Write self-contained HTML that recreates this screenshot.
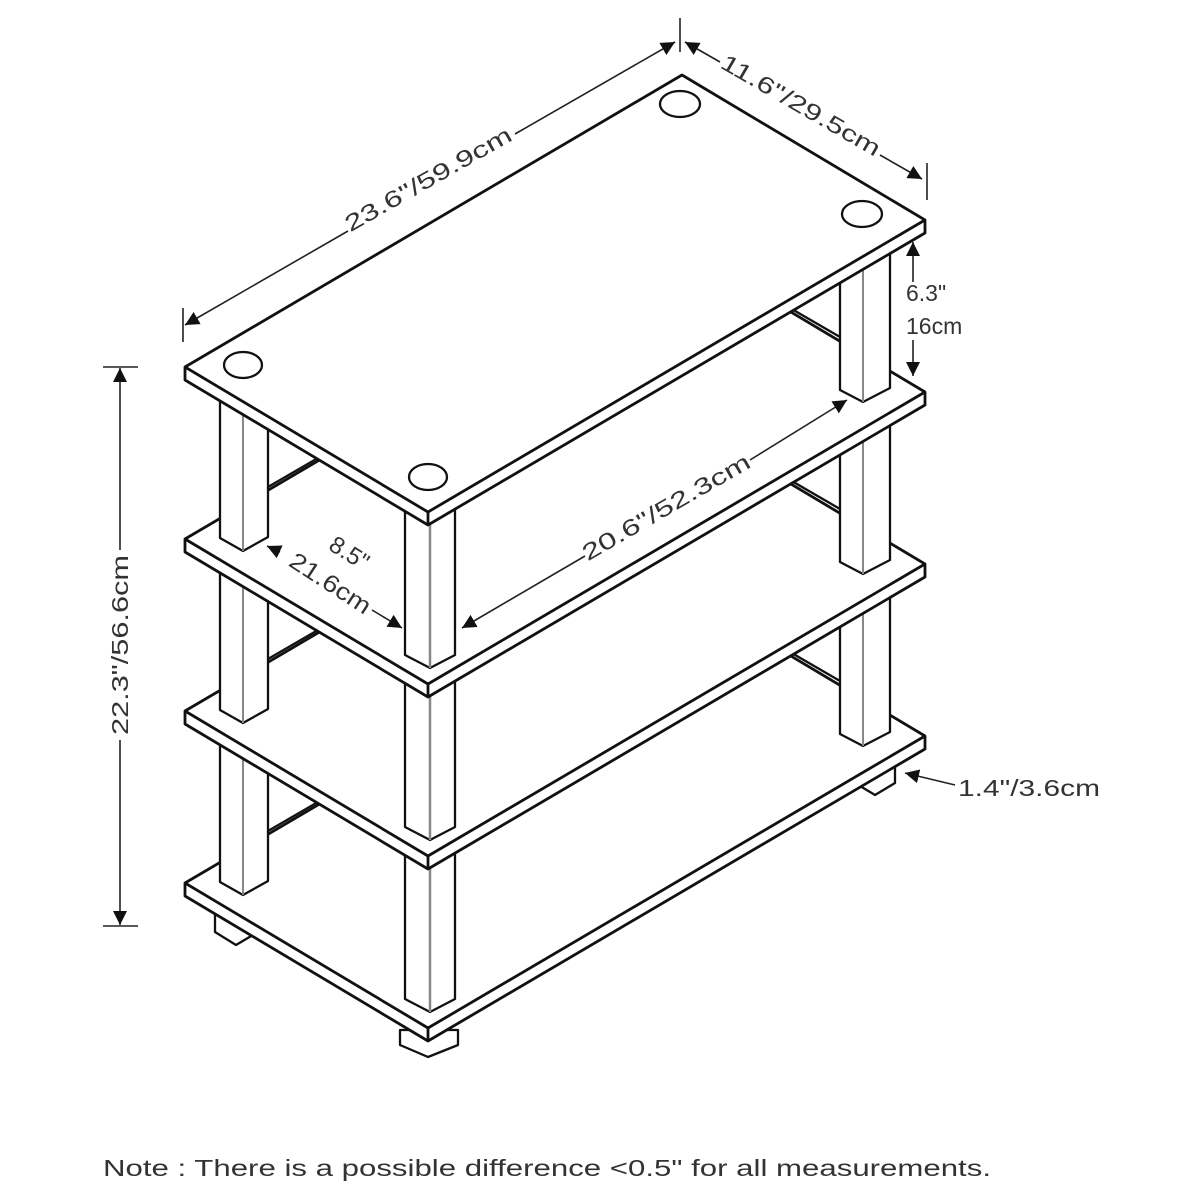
<!DOCTYPE html>
<html><head><meta charset="utf-8"><style>
html,body{margin:0;padding:0;background:#fff;}
svg{display:block;}
text{font-family:"Liberation Sans",sans-serif;fill:#333;}
</style></head><body>
<svg width="1200" height="1200" viewBox="0 0 1200 1200" xmlns="http://www.w3.org/2000/svg">
<defs>
<marker id="a" viewBox="0 0 10 10" refX="10" refY="5" markerWidth="14" markerHeight="14" markerUnits="userSpaceOnUse" orient="auto-start-reverse"><path d="M0,0 L10,5 L0,10 z" fill="#111"/></marker>
<g id="shelf" stroke="#111" stroke-width="2.8" stroke-linejoin="round" fill="#fff">
<polygon points="185,367 682,75 925,220 925,233 428,525 185,380"/>
<polyline points="185,367 428,512 925,220" fill="none"/>
<line x1="428" y1="512" x2="428" y2="525"/>
</g>
<g id="posts" stroke="#111" stroke-width="2.3" fill="#fff" stroke-linejoin="round">
<polygon points="220,390 268,390 268,537 243,551 220,538"/>
<line x1="243" y1="400" x2="243" y2="551" stroke="#888" stroke-width="2"/>
<line x1="268" y1="487" x2="318" y2="458"/>
<polygon points="405,510 455,510 455,655 430,668 405,655"/>
<line x1="430" y1="520" x2="430" y2="668" stroke="#888" stroke-width="2.5"/>
<polygon points="840,250 890,250 890,388 863,402 840,390"/>
<line x1="863" y1="260" x2="863" y2="402" stroke="#888" stroke-width="2"/>
<line x1="790" y1="308" x2="840" y2="337"/>
</g>
</defs>

<g stroke="#111" stroke-width="2.3" fill="#fff" stroke-linejoin="round">
<polygon points="215,900 215,932 236,945 258,932 258,910"/>
<polygon points="400,1030 400,1045 428,1057 458,1045 458,1030"/>
<polygon points="855,770 855,783 875,795 895,783 895,762"/>
</g>
<use href="#shelf" transform="translate(0,516)"/>
<use href="#posts" transform="translate(0,344)"/>
<use href="#shelf" transform="translate(0,344)"/>
<use href="#posts" transform="translate(0,172)"/>
<use href="#shelf" transform="translate(0,172)"/>
<use href="#posts"/>
<use href="#shelf"/>
<g fill="none" stroke="#111" stroke-width="2.3">
<ellipse cx="243" cy="365" rx="19" ry="13"/>
<ellipse cx="428" cy="477" rx="19" ry="13"/>
<ellipse cx="680" cy="104" rx="20" ry="13"/>
<ellipse cx="862" cy="214" rx="20" ry="13"/>
</g>

<g stroke="#222" stroke-width="1.6" fill="none">
<line x1="183" y1="308" x2="183" y2="342"/>
<line x1="680" y1="18" x2="680" y2="52"/>
<line x1="927" y1="163" x2="927" y2="200"/>
<line x1="185" y1="325" x2="348" y2="231" marker-start="url(#a)"/>
<line x1="515" y1="134" x2="675" y2="42" marker-end="url(#a)"/>
<line x1="685" y1="42" x2="720" y2="62" marker-start="url(#a)"/>
<line x1="880" y1="155" x2="922" y2="179" marker-end="url(#a)"/>
<line x1="913" y1="242" x2="913" y2="282" marker-start="url(#a)"/>
<line x1="913" y1="340" x2="913" y2="376" marker-end="url(#a)"/>
<line x1="103" y1="367" x2="138" y2="367"/>
<line x1="103" y1="926" x2="138" y2="926"/>
<line x1="120" y1="368" x2="120" y2="550" marker-start="url(#a)"/>
<line x1="120" y1="740" x2="120" y2="925" marker-end="url(#a)"/>
<line x1="462" y1="628" x2="585" y2="556" marker-start="url(#a)"/>
<line x1="750" y1="460" x2="847" y2="400" marker-end="url(#a)"/>
<line x1="267" y1="546" x2="280" y2="552" marker-start="url(#a)"/>
<line x1="372" y1="610" x2="402" y2="628" marker-end="url(#a)"/>
<line x1="955" y1="785" x2="905" y2="773" marker-end="url(#a)"/>
</g>

<g font-size="23">
<text transform="translate(432,186) rotate(-29.6)" text-anchor="middle" textLength="188" lengthAdjust="spacingAndGlyphs">23.6"/59.9cm</text>
<text transform="translate(797,112) rotate(30)" text-anchor="middle" textLength="180" lengthAdjust="spacingAndGlyphs">11.6"/29.5cm</text>
<text transform="translate(670,514) rotate(-30)" text-anchor="middle" textLength="190" lengthAdjust="spacingAndGlyphs">20.6"/52.3cm</text>
<text transform="translate(128,645) rotate(-90)" text-anchor="middle" textLength="180" lengthAdjust="spacingAndGlyphs">22.3"/56.6cm</text>
<text transform="translate(345,560) rotate(32)" text-anchor="middle" font-size="24">8.5"</text>
<text transform="translate(326,590) rotate(33)" text-anchor="middle" font-size="24" textLength="92" lengthAdjust="spacingAndGlyphs">21.6cm</text>
<text x="906" y="301">6.3"</text>
<text x="906" y="334">16cm</text>
<text x="958" y="796" textLength="142" lengthAdjust="spacingAndGlyphs">1.4"/3.6cm</text>
</g>
<text x="103" y="1176" font-size="23" fill="#444" textLength="888" lengthAdjust="spacingAndGlyphs">Note : There is a possible difference &lt;0.5" for all measurements.</text>
</svg>
</body></html>
